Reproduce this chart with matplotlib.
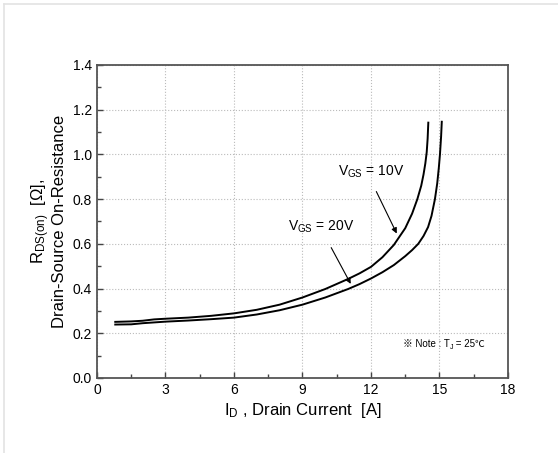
import matplotlib
matplotlib.use('Agg')
import matplotlib.pyplot as plt
from matplotlib.lines import Line2D
from matplotlib.ticker import MultipleLocator, FormatStrFormatter

plt.rcParams['font.family'] = ['Liberation Sans', 'Noto Sans CJK KR', 'DejaVu Sans']
plt.rcParams['mathtext.fontset'] = 'custom'
plt.rcParams['mathtext.rm'] = 'Liberation Sans'
plt.rcParams['mathtext.it'] = 'Liberation Sans'

# VGS = 10V (upper curve)
id_10v = [0.8, 1.5, 2.0, 2.5, 3.0, 4.0, 5.0, 6.0, 7.0, 8.0, 9.0, 10.0, 11.0,
          11.5, 12.0, 12.5, 13.0, 13.5, 13.8, 14.03, 14.2, 14.3, 14.38, 14.44,
          14.48, 14.51]
r_10v = [0.251, 0.253, 0.256, 0.262, 0.265, 0.270, 0.278, 0.289, 0.305, 0.328,
         0.360, 0.398, 0.443, 0.468, 0.497, 0.540, 0.595, 0.670, 0.735, 0.800,
         0.860, 0.910, 0.960, 1.010, 1.070, 1.142]

# VGS = 20V (lower curve)
id_20v = [0.8, 1.5, 2.0, 3.0, 4.0, 5.0, 6.0, 7.0, 8.0, 9.0, 10.0, 11.0, 11.5,
          12.0, 12.5, 13.0, 13.5, 13.8, 14.07, 14.3, 14.5, 14.65, 14.8, 14.9,
          14.97, 15.02, 15.07, 15.1]
r_20v = [0.239, 0.240, 0.245, 0.252, 0.257, 0.263, 0.270, 0.284, 0.303, 0.328,
         0.360, 0.398, 0.420, 0.445, 0.473, 0.505, 0.545, 0.572, 0.600, 0.635,
         0.675, 0.725, 0.800, 0.870, 0.940, 1.000, 1.080, 1.146]

fig = plt.figure(figsize=(5.58, 4.53), dpi=100)
ax = fig.add_axes([0.1738, 0.1656, 0.7366, 0.691])

# light frame lines at top/left of the figure
fig.add_artist(Line2D([0.0077, 1.0], [0.9905, 0.9905], color='#e3e3e3', lw=1.2))
fig.add_artist(Line2D([0.0077, 0.0077], [0.0, 0.9905], color='#e3e3e3', lw=1.2))

ax.plot(id_10v, r_10v, color='black', lw=1.4)
ax.plot(id_20v, r_20v, color='black', lw=1.4)

ax.set_xlim(0, 18)
ax.set_ylim(0, 1.4)
ax.xaxis.set_major_locator(MultipleLocator(3))
ax.xaxis.set_minor_locator(MultipleLocator(1.5))
ax.yaxis.set_major_locator(MultipleLocator(0.2))
ax.yaxis.set_minor_locator(MultipleLocator(0.1))
ax.yaxis.set_major_formatter(FormatStrFormatter('%.1f'))
ax.tick_params(which='both', direction='in', colors='#444444', labelcolor='black',
               labelsize=10, top=False, right=False)
ax.tick_params(which='major', length=4, width=1)
ax.tick_params(which='minor', length=3, width=1)
for s in ax.spines.values():
    s.set_color('#555555')
    s.set_linewidth(1.3)
ax.grid(True, which='major', linestyle=':', color='#bbbbbb', lw=0.8)

ax.set_xlabel(r'I$_{\mathrm{D}}$ , Drain Current  [A]', fontsize=12, labelpad=3)
ax.set_ylabel('R$_{\\mathrm{DS(on)}}$  [Ω],\nDrain-Source On-Resistance',
              fontsize=12, labelpad=4, linespacing=1.0)

ax.text(12.0, 0.92, r'V$_{\mathrm{GS}}$ = 10V', fontsize=10, ha='center', va='center')
ax.annotate('', xy=(13.18, 0.635), xytext=(12.18, 0.845),
            arrowprops=dict(arrowstyle='-|>', color='black', lw=0.8, mutation_scale=8))
ax.text(9.8, 0.675, r'V$_{\mathrm{GS}}$ = 20V', fontsize=10, ha='center', va='center')
ax.annotate('', xy=(11.17, 0.41), xytext=(10.2, 0.594),
            arrowprops=dict(arrowstyle='-|>', color='black', lw=0.8, mutation_scale=8))

# note, built from pieces so the CJK symbols use a font that has them
t1 = ax.text(13.4, 0.13, '※ Note : T', fontsize=7, ha='left', va='bottom')
ax.annotate('J', xy=(1, 0), xycoords=t1, xytext=(0, -1.5),
            textcoords='offset points', fontsize=5, ha='left', va='bottom')
ax.annotate(' = 25℃', xy=(1, 0), xycoords=t1, xytext=(2.2, 0),
            textcoords='offset points', fontsize=7, ha='left', va='bottom')

fig.savefig('out.png', dpi=100)
